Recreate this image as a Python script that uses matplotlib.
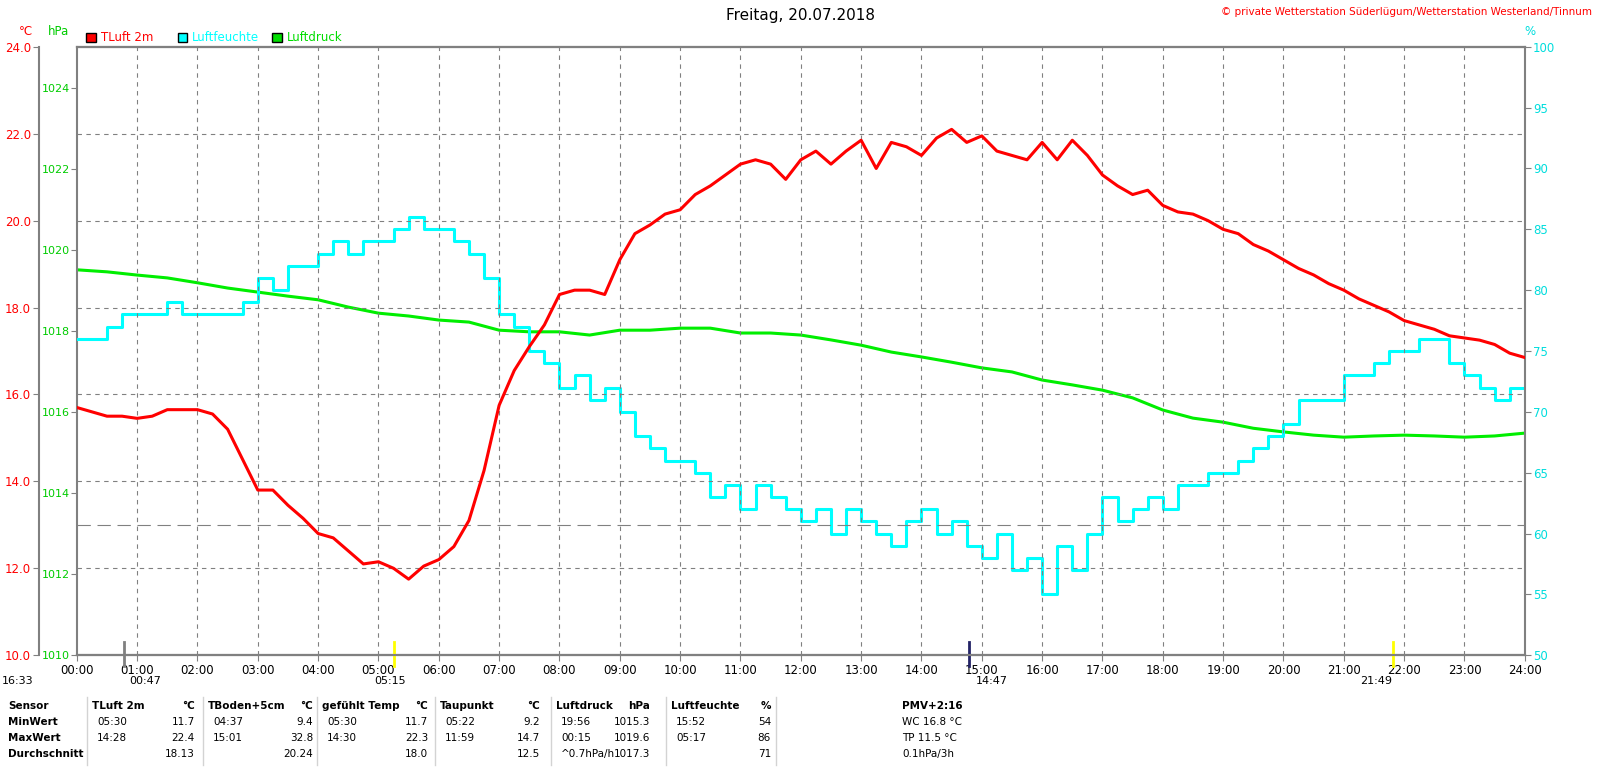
import numpy as np
import matplotlib.pyplot as plt

# Messwerte, 15-Minuten-Raster (00:00 .. 24:00)
temp = [15.7, 15.6, 15.5, 15.5, 15.45, 15.5, 15.65, 15.65,
        15.65, 15.55, 15.2, 14.5, 13.8, 13.8, 13.45, 13.15,
        12.8, 12.7, 12.4, 12.1, 12.15, 12.0, 11.75, 12.05,
        12.2, 12.5, 13.1, 14.25, 15.75, 16.55, 17.1, 17.6,
        18.3, 18.4, 18.4, 18.3, 19.1, 19.7, 19.9, 20.15,
        20.25, 20.6, 20.8, 21.05, 21.3, 21.4, 21.3, 20.95,
        21.4, 21.6, 21.3, 21.6, 21.85, 21.2, 21.8, 21.7,
        21.5, 21.9, 22.1, 21.8, 21.95, 21.6, 21.5, 21.4,
        21.8, 21.4, 21.85, 21.5, 21.05, 20.8, 20.6, 20.7,
        20.35, 20.2, 20.15, 20.0, 19.8, 19.7, 19.45, 19.3,
        19.1, 18.9, 18.75, 18.55, 18.4, 18.2, 18.05, 17.9,
        17.7, 17.6, 17.5, 17.35, 17.3, 17.25, 17.15, 16.95, 16.85]
feuchte = [76, 76, 77, 78, 78, 78, 79, 78, 78, 78, 78, 79,
           81, 80, 82, 82, 83, 84, 83, 84, 84, 85, 86, 85,
           85, 84, 83, 81, 78, 77, 75, 74, 72, 73, 71, 72,
           70, 68, 67, 66, 66, 65, 63, 64, 62, 64, 63, 62,
           61, 62, 60, 62, 61, 60, 59, 61, 62, 60, 61, 59,
           58, 60, 57, 58, 55, 59, 57, 60, 63, 61, 62, 63,
           62, 64, 64, 65, 65, 66, 67, 68, 69, 71, 71, 71,
           73, 73, 74, 75, 75, 76, 76, 74, 73, 72, 71, 72, 71]
# Luftdruck, 30-Minuten-Raster
druck = [1019.51, 1019.46, 1019.38, 1019.31, 1019.19, 1019.06, 1018.96, 1018.86,
         1018.77, 1018.59, 1018.44, 1018.37, 1018.27, 1018.22, 1018.02, 1017.98,
         1017.98, 1017.90, 1018.02, 1018.02, 1018.07, 1018.07, 1017.95, 1017.95,
         1017.90, 1017.78, 1017.65, 1017.48, 1017.36, 1017.23, 1017.09, 1016.99,
         1016.79, 1016.67, 1016.54, 1016.35, 1016.05, 1015.85, 1015.75, 1015.60,
         1015.51, 1015.43, 1015.38, 1015.41, 1015.43, 1015.41, 1015.38, 1015.41, 1015.48]

t15 = np.arange(len(temp)) * 0.25
t30 = np.arange(len(druck)) * 0.5
hours = ['%02d:00' % h for h in range(25)]

fig = plt.figure(figsize=(16, 7.8), dpi=100)
ax = fig.add_axes([0.048, 0.160, 0.905, 0.780])
axp = ax.twinx()
axh = ax.twinx()

ax.set_xlim(0, 24)
ax.set_ylim(10, 24)
axp.set_ylim(1010, 1010 + 14 * 43.43 / 40.5)
axh.set_ylim(50, 100)

# Gitter
for h in range(1, 24):
    ax.axvline(h, color='gray', ls=(0, (4, 4)), lw=0.8)
for v in range(12, 24, 2):
    ax.axhline(v, color='gray', ls=(0, (4, 4)), lw=0.8)
ax.axhline(13.0, color='gray', ls=(0, (12, 6)), lw=0.8)

axh.step(t15, feuchte, where='post', color='#00ffff', lw=2.2)
axp.plot(t30, druck, color='#00ee00', lw=2.2)
ax.plot(t15, temp, color='#ff0000', lw=2.2)
ax.set_zorder(axh.get_zorder() + 1)
ax.patch.set_visible(False)

for a in (ax, axp, axh):
    for s in a.spines.values():
        s.set_color('gray')
        s.set_linewidth(1.5)
ax.spines['left'].set_position(('outward', 27))
ax.spines['right'].set_visible(False)
axp.spines['right'].set_visible(False)
axp.spines['left'].set_visible(True)
axp.yaxis.set_ticks_position('left')
axp.yaxis.set_label_position('left')
axh.spines['left'].set_visible(False)

ax.set_yticks(np.arange(10, 25, 2))
ax.set_yticklabels(['%.1f' % v for v in np.arange(10, 25, 2)], fontsize=8.5)
axp.set_yticks(range(1010, 1026, 2))
axp.set_yticklabels([str(v) for v in range(1010, 1026, 2)], fontsize=8)
axh.set_yticks(range(50, 101, 5))
axh.set_yticklabels([str(v) for v in range(50, 101, 5)], fontsize=8.5)
ax.set_xticks(range(25))
ax.set_xticklabels(hours, fontsize=8.5)
for a in (ax, axp, axh):
    a.tick_params(colors='gray', length=4, pad=2)
ax.tick_params(axis='x', labelcolor='black')
ax.tick_params(axis='y', labelcolor='red')
axp.tick_params(axis='y', labelcolor='#00cc00', pad=1)
axh.tick_params(axis='y', labelcolor='#00dddd')

fig.text(0.5, 0.98, 'Freitag, 20.07.2018', ha='center', va='center', fontsize=11)
fig.text(0.995, 0.985, '© private Wetterstation Süderlügum/Wetterstation Westerland/Tinnum',
         ha='right', va='center', fontsize=7.5, color='red')
fig.text(0.012, 0.96, '°C', color='red', fontsize=8.5, va='center')
fig.text(0.030, 0.96, 'hPa', color='#00cc00', fontsize=8.5, va='center')
fig.text(0.953, 0.96, '%', color='#00dddd', fontsize=8.5, va='center')
for x, lab, c in [(0.054, 'TLuft 2m', 'red'), (0.111, 'Luftfeuchte', '#00ffff'),
                  (0.170, 'Luftdruck', '#00dd00')]:
    fig.patches.append(plt.Rectangle((x, 0.946), 0.006, 0.012, transform=fig.transFigure,
                                     facecolor=c, edgecolor='black', lw=1))
    fig.text(x + 0.009, 0.952, lab, color=c, fontsize=8.5, va='center')

# Sonnenauf-/untergang, Markierungen
for h, c in [(0.78, 'gray'), (5.25, 'yellow'), (14.78, '#222266'), (21.82, 'yellow')]:
    ax.plot([h, h], [9.75, 10.3], color=c, lw=2, clip_on=False)
for x, lab in [(2, '16:33'), (129, '00:47'), (374, '05:15'), (976, '14:47'), (1360, '21:49')]:
    fig.text(x / 1600, 1 - 681 / 780, lab, fontsize=8, va='center')

# Tabelle
fs = 7.5
rows_y = [706, 722, 738, 754]
for y, lab in zip(rows_y, ['Sensor', 'MinWert', 'MaxWert', 'Durchschnitt']):
    fig.text(8 / 1600, 1 - y / 780, lab, fontsize=fs, weight='bold', va='center')
cols = [
    (92, 195, 'TLuft 2m', '°C', [('05:30', '11.7'), ('14:28', '22.4'), ('', '18.13')]),
    (208, 313, 'TBoden+5cm', '°C', [('04:37', '9.4'), ('15:01', '32.8'), ('', '20.24')]),
    (322, 428, 'gefühlt Temp', '°C', [('05:30', '11.7'), ('14:30', '22.3'), ('', '18.0')]),
    (440, 540, 'Taupunkt', '°C', [('05:22', '9.2'), ('11:59', '14.7'), ('', '12.5')]),
    (556, 650, 'Luftdruck', 'hPa', [('19:56', '1015.3'), ('00:15', '1019.6'), ('^0.7hPa/h', '1017.3')]),
    (671, 771, 'Luftfeuchte', '%', [('15:52', '54'), ('05:17', '86'), ('', '71')]),
]
for x0, x1, name, unit, vals in cols:
    fig.text(x0 / 1600, 1 - rows_y[0] / 780, name, fontsize=fs, weight='bold', va='center')
    fig.text(x1 / 1600, 1 - rows_y[0] / 780, unit, fontsize=fs, weight='bold', va='center', ha='right')
    for y, (tm, v) in zip(rows_y[1:], vals):
        fig.text((x0 + 5) / 1600, 1 - y / 780, tm, fontsize=fs, va='center')
        fig.text(x1 / 1600, 1 - y / 780, v, fontsize=fs, va='center', ha='right')
    fig.add_artist(plt.Line2D([(x0 - 5) / 1600] * 2, [1 - 697 / 780, 1 - 765 / 780], color='lightgray', lw=1))
fig.add_artist(plt.Line2D([(776) / 1600] * 2, [1 - 697 / 780, 1 - 765 / 780], color='lightgray', lw=1))
fig.text(902 / 1600, 1 - 706 / 780, 'PMV+2:16', fontsize=fs, weight='bold', va='center')
for y, lab in zip(rows_y[1:], ['WC 16.8 °C', 'TP 11.5 °C', '0.1hPa/3h']):
    fig.text(902 / 1600, 1 - y / 780, lab, fontsize=fs, va='center')

fig.savefig('out.png', dpi=100)
